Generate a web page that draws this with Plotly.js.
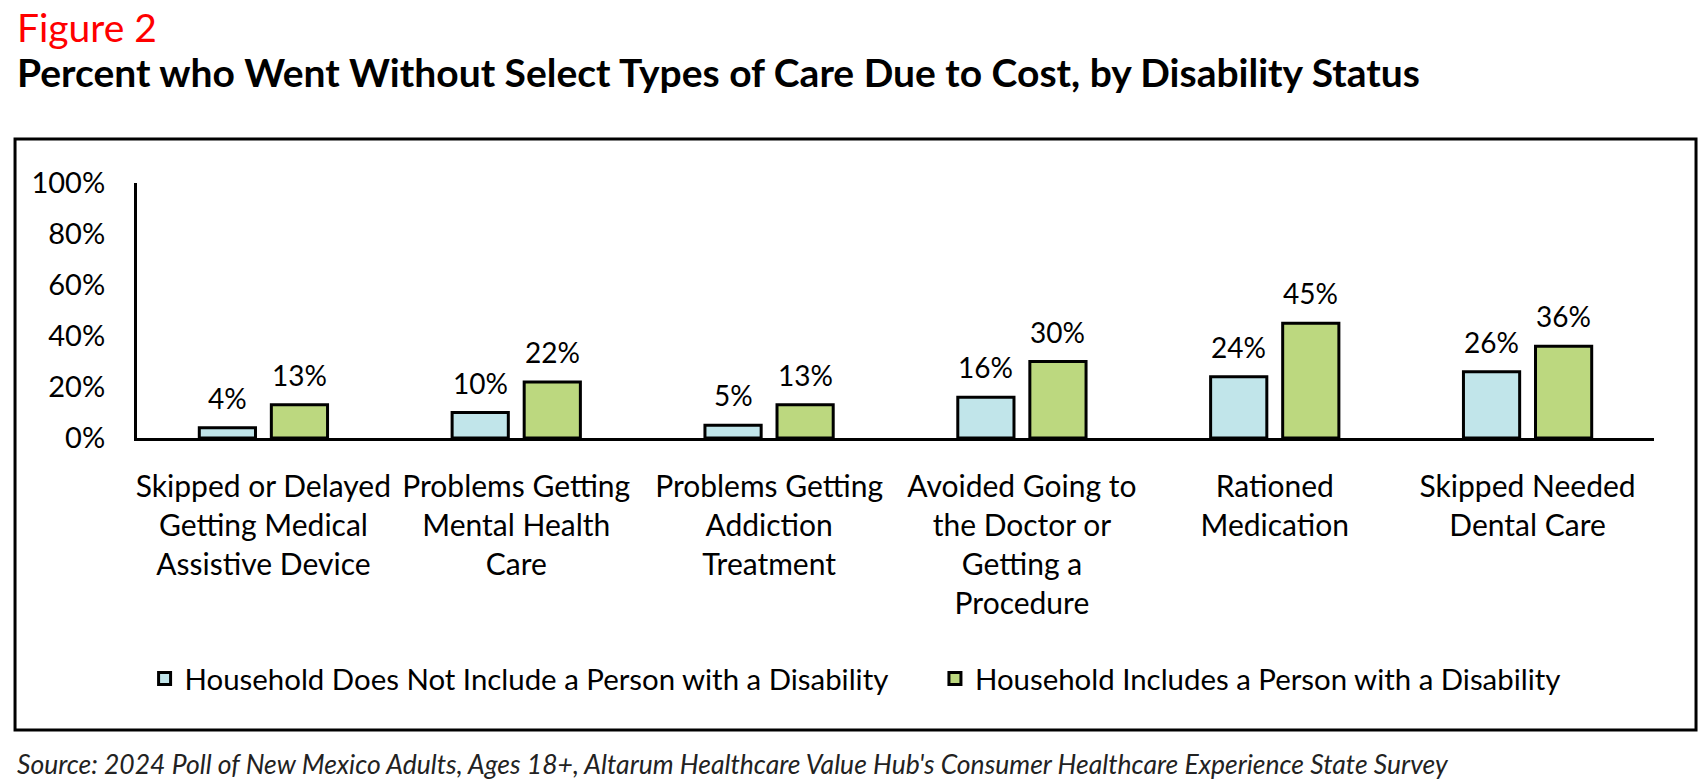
<!DOCTYPE html>
<html>
<head>
<meta charset="utf-8">
<script src="https://cdn.plot.ly/plotly-3.0.1.min.js"></script>
<style>
  html, body { margin: 0; padding: 0; background: #fff; }
  #chart { width: 1704px; height: 780px; }
</style>
</head>
<body>
<div id="chart"></div>
<script>
const categories = [
  "Skipped or Delayed<br>Getting Medical<br>Assistive Device",
  "Problems Getting<br>Mental Health<br>Care",
  "Problems Getting<br>Addiction<br>Treatment",
  "Avoided Going to<br>the Doctor or<br>Getting a<br>Procedure",
  "Rationed<br>Medication",
  "Skipped Needed<br>Dental Care"
];
const seriesNames = [
  "Household Does Not Include a Person with a Disability",
  "Household Includes a Person with a Disability"
];
const noDisability = [4, 10, 5, 16, 24, 26];
const withDisability = [13, 22, 13, 30, 45, 36];
const yTickVals = [0, 20, 40, 60, 80, 100];
const yTickText = ["0%", "20%", "40%", "60%", "80%", "100%"];

const FONT = "Lato, 'Open Sans', sans-serif";
const colors = ["#C1E5EA", "#BCD87F"];
const seriesValues = [noDisability, withDisability];
const legendIds = ["legend", "legend2"];

const traces = seriesValues.map((vals, i) => ({
  type: "bar",
  name: seriesNames[i],
  x: categories,
  y: vals,
  legend: legendIds[i],
  marker: { color: colors[i], line: { color: "#000", width: 3 } },
  hoverinfo: "none"
}));

const annotations = [];
seriesValues.forEach((vals, s) => {
  vals.forEach((v, i) => {
    annotations.push({
      x: categories[i], y: v, xref: "x", yref: "y",
      text: v + "%", showarrow: false,
      xshift: s === 0 ? -36 : 36, yshift: 30,
      yanchor: "middle", xanchor: "center",
      font: { family: FONT, size: 28, color: "#000" }
    });
  });
});
annotations.push({
  xref: "paper", yref: "paper", x: -0.0804, y: 1.522,
  xanchor: "left", yanchor: "middle", align: "left", showarrow: false,
  text: "<span style='color:#FF0000;font-size:39px'>Figure 2</span><br>" +
        "<span style='font-size:39px'><b>Percent who Went Without Select Types of Care Due to Cost, by Disability Status</b></span>",
  font: { family: FONT, size: 34.6, color: "#000" }
});
annotations.push({
  xref: "paper", yref: "paper", x: -0.0804, y: -1.278,
  xanchor: "left", yanchor: "middle", showarrow: false,
  text: "<i>Source: 2024 Poll of New Mexico Adults, Ages 18+, Altarum Healthcare Value Hub's Consumer Healthcare Experience State Survey</i>",
  font: { family: FONT, size: 26.5, color: "#222" }
});

const legendBase = {
  orientation: "h",
  yanchor: "middle", xanchor: "left", y: -0.945,
  font: { family: FONT, size: 29.4, color: "#000" },
  itemclick: false, itemdoubleclick: false,
  bgcolor: "rgba(0,0,0,0)"
};

const layout = {
  width: 1704, height: 780,
  paper_bgcolor: "#fff", plot_bgcolor: "#fff",
  margin: { l: 137, r: 50, t: 183, b: 342 },
  barmode: "group",
  bargap: 0.43,
  bargroupgap: 0.22,
  xaxis: {
    showline: true, linecolor: "#000", linewidth: 3,
    showgrid: false, zeroline: false, ticks: "",
    tickfont: { family: FONT, size: 30, color: "#000" },
    ticklabelstandoff: 20,
    fixedrange: true
  },
  yaxis: {
    range: [0, 100],
    tickvals: yTickVals, ticktext: yTickText,
    showline: true, linecolor: "#000", linewidth: 3,
    showgrid: false, zeroline: false, ticks: "",
    tickfont: { family: FONT, size: 29, color: "#000" },
    ticklabelstandoff: 23,
    fixedrange: true
  },
  showlegend: true,
  legend: Object.assign({}, legendBase, { x: 0.005 }),
  legend2: Object.assign({}, legendBase, { x: 0.526 }),
  shapes: [{
    type: "rect", xref: "paper", yref: "paper",
    x0: -0.0804, x1: 1.0277, y0: -1.145, y1: 1.1725,
    line: { color: "#000", width: 3 }, fillcolor: "rgba(0,0,0,0)",
    layer: "below"
  }],
  annotations: annotations
};

Plotly.newPlot("chart", traces, layout, { displayModeBar: false, staticPlot: true });
</script>
</body>
</html>
